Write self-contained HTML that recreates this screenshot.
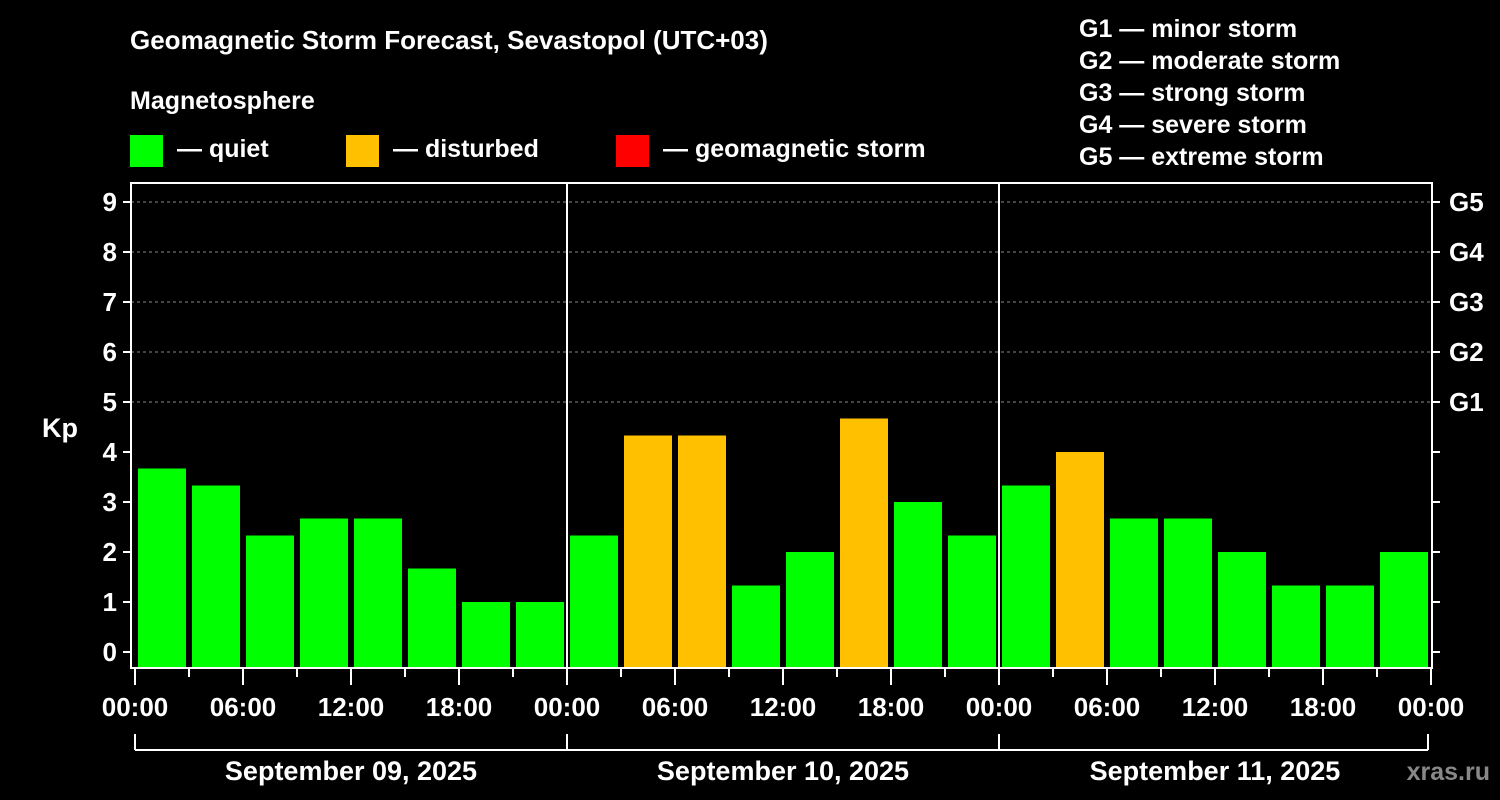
<!DOCTYPE html>
<html><head><meta charset="utf-8"><style>
html,body{margin:0;padding:0;background:#000;}
svg{display:block;font-family:"Liberation Sans",Arial,sans-serif;font-weight:bold;}
</style></head><body>
<svg id="chart" width="1500" height="800" viewBox="0 0 1500 800">
<rect x="0" y="0" width="1500" height="800" fill="#000"/>
<text x="130" y="49" fill="#fff" font-size="26">Geomagnetic Storm Forecast, Sevastopol (UTC+03)</text>
<text x="130" y="109" fill="#fff" font-size="25">Magnetosphere</text>
<g><rect x="130" y="135" width="33" height="32" fill="#00ff00"/><text x="177" y="157" fill="#fff" font-size="25">— quiet</text></g>
<g><rect x="346" y="135" width="33" height="32" fill="#ffc000"/><text x="393" y="157" fill="#fff" font-size="25">— disturbed</text></g>
<g><rect x="616" y="135" width="33" height="32" fill="#ff0000"/><text x="663" y="157" fill="#fff" font-size="25">— geomagnetic storm</text></g>
<g fill="#fff" font-size="25">
<text x="1079" y="37">G1 — minor storm</text>
<text x="1079" y="69">G2 — moderate storm</text>
<text x="1079" y="101">G3 — strong storm</text>
<text x="1079" y="133">G4 — severe storm</text>
<text x="1079" y="165">G5 — extreme storm</text>
</g>
<text x="42" y="437" fill="#fff" font-size="27">Kp</text>
<text x="1490" y="780" fill="#888" font-size="25" text-anchor="end">xras.ru</text>
<g id="plot"></g>
</svg>
<script>
const kpValues = [3.67,3.33,2.33,2.67,2.67,1.67,1,1, 2.33,4.33,4.33,1.33,2,4.67,3,2.33, 3.33,4,2.67,2.67,2,1.33,1.33,2];
const dayLabels = ["September 09, 2025","September 10, 2025","September 11, 2025"];
const hourLabels = ["00:00","06:00","12:00","18:00"];
const kpTicks = [0,1,2,3,4,5,6,7,8,9];
const gLabels = ["G1","G2","G3","G4","G5"];
const gLevels = [5,6,7,8,9];

const NS="http://www.w3.org/2000/svg";
const L=131,R=1432,T=183,B=668,X0=135,HOURPX=18;
const y=v=>652-v*50;
const xh=h=>X0+h*HOURPX;
const g=document.getElementById('plot');
function mk(t,a){const e=document.createElementNS(NS,t);for(const k in a)e.setAttribute(k,a[k]);g.appendChild(e);return e;}

gLevels.forEach((lv,i)=>{
  const l=mk('line',{x1:L,x2:R,y1:y(lv),y2:y(lv),stroke:'#888','stroke-dasharray':'3,3','stroke-width':1});
  
  
});
kpValues.forEach((v,i)=>{
  const c=v>=5?'#ff0000':(v>=4?'#ffc000':'#00ff00');
  const r=mk('rect',{x:xh(i*3)+3,y:y(v),width:48,height:B-y(v),fill:c});
  
  
});
mk('rect',{x:L,y:T,width:R-L,height:B-T,fill:'none',stroke:'#fff','stroke-width':2});
for(let d=1;d<dayLabels.length;d++){
  const l=mk('line',{x1:xh(d*24),x2:xh(d*24),y1:T,y2:B,stroke:'#fff','stroke-width':2});
  
  
}
kpTicks.forEach(k=>{
  mk('line',{x1:L-8,x2:L,y1:y(k),y2:y(k),stroke:'#fff','stroke-width':2});
  mk('line',{x1:R,x2:R+8,y1:y(k),y2:y(k),stroke:'#fff','stroke-width':2});
  const t=mk('text',{x:L-14,y:y(k)+9,fill:'#fff','font-size':26,'text-anchor':'end'});
  t.textContent=k;
  
  
});
gLevels.forEach((lv,i)=>{
  const t=mk('text',{x:R+17,y:y(lv)+9,fill:'#fff','font-size':26});
  t.textContent=gLabels[i];
  
  
});
const nH=dayLabels.length*24;
for(let h=0;h<=nH;h+=3){
  const major=h%6===0;
  mk('line',{x1:xh(h),x2:xh(h),y1:B,y2:B+(major?17:9),stroke:'#fff','stroke-width':2});
  if(major){
    const t=mk('text',{x:xh(h),y:716,fill:'#fff','font-size':26,'text-anchor':'middle'});
    t.textContent=hourLabels[(h/6)%4];
    
    
  }
}
mk('line',{x1:xh(0),x2:xh(nH)-3,y1:750,y2:750,stroke:'#fff','stroke-width':2});
for(let d=0;d<=dayLabels.length;d++){
  mk('line',{x1:Math.min(xh(d*24),xh(nH)-3),x2:Math.min(xh(d*24),xh(nH)-3),y1:734,y2:750,stroke:'#fff','stroke-width':2});
}
dayLabels.forEach((s,d)=>{
  const t=mk('text',{x:xh(d*24+12),y:780,fill:'#fff','font-size':27,'text-anchor':'middle'});
  t.textContent=s;
  
  
});
</script>
</body></html>
